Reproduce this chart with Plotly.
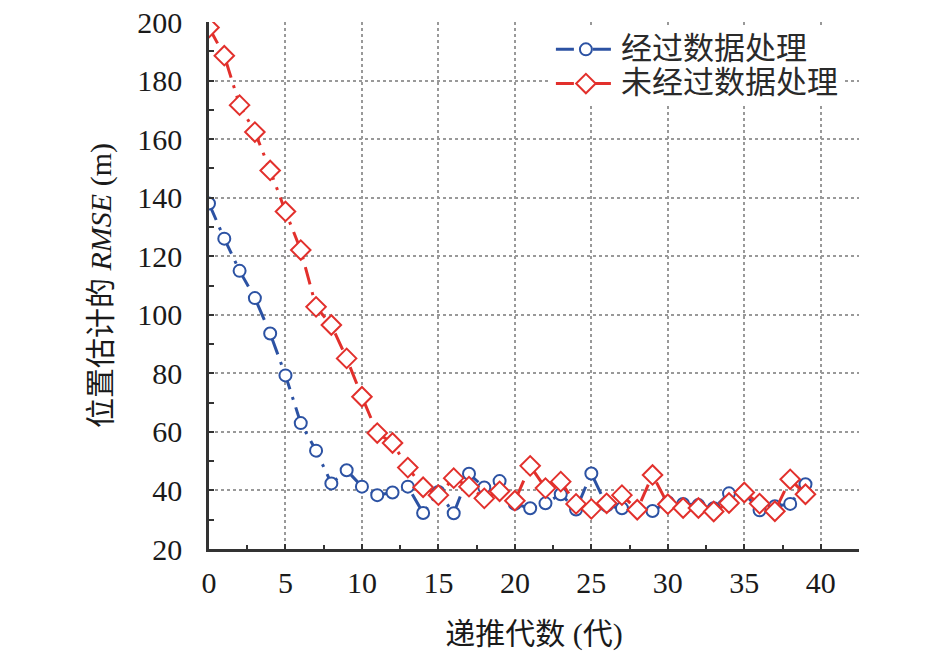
import plotly.graph_objects as go

# generation index (x) and position RMSE (m) for both runs
generations = list(range(40))
rmse_processed = [138, 126, 115, 105.7, 93.6, 79.3, 63, 53.6, 42.4, 46.9,
                  41.3, 38.4, 39.3, 41.3, 32.3, 39.5, 32.2, 45.7, 41, 43.2,
                  35.4, 33.9, 35.6, 38.7, 33.5, 45.8, 34.8, 33.9, 33.8, 33.0,
                  36, 35.4, 35, 33.9, 39, 39, 33.2, 34.6, 35.4, 42.1]
rmse_raw = [198.1, 188.5, 171.6, 162.4, 149.3, 135.3, 122.1, 102.7, 96.5, 85.1,
            72, 59.6, 56.2, 47.8, 41.1, 38.4, 44.2, 41.3, 37.3, 39.7,
            36.5, 48.4, 40.8, 43, 35.4, 33.7, 35.6, 38.4, 33.4, 45.3,
            35.3, 34, 34, 32.8, 35.7, 39.3, 35.5, 32.9, 43.8, 38.7]
series_names = ["经过数据处理", "未经过数据处理"]
x_ticks = [0, 5, 10, 15, 20, 25, 30, 35, 40]
y_ticks = [20, 30, 40, 50, 60, 70, 80, 90, 100, 110,
           120, 130, 140, 150, 160, 170, 180, 190, 200]
y_ticktext = ["20", "", "40", "", "60", "", "80", "", "100", "",
              "120", "", "140", "", "160", "", "180", "", "200"]
y_grid = [40, 60, 80, 100, 120, 140, 160, 180]

BLUE = "#2c52a3"
RED = "#e2302c"
DASH = "18px,8px,3px,8px"
SERIF = "Times New Roman, Liberation Serif, serif"
MIXED = "Times New Roman, Liberation Serif, Noto Sans CJK SC"


def legend_label(name):
    # legend rows are spaced from legend.font.size; draw the text itself larger
    return "<span style='font-size:31px'>" + name + "</span>"


fig = go.Figure()

fig.add_trace(go.Scatter(
    x=generations, y=rmse_processed, name=legend_label(series_names[0]),
    mode="lines+markers",
    line=dict(color=BLUE, width=3, dash=DASH),
    marker=dict(symbol="circle", size=12, color="white",
                line=dict(color=BLUE, width=2)),
))
fig.add_trace(go.Scatter(
    x=generations, y=rmse_raw, name=legend_label(series_names[1]),
    mode="lines+markers",
    line=dict(color=RED, width=3, dash=DASH),
    marker=dict(symbol="diamond", size=15, color="white",
                line=dict(color=RED, width=2)),
))

grid = dict(gridcolor="#999999", gridwidth=2, griddash="dot")
tick_style = dict(ticks="inside", ticklen=5, tickwidth=2, tickcolor="#333333",
                  showline=True, linecolor="#333333", linewidth=2.5,
                  zeroline=False, automargin=False, ticklabeloverflow="allow",
                  tickfont=dict(family=SERIF, size=30, color="#1a1a1a"))

fig.update_layout(
    width=945, height=654,
    margin=dict(l=201, r=94, t=14, b=113),
    paper_bgcolor="white", plot_bgcolor="white",
    font=dict(family=MIXED, size=30, color="#1a1a1a"),
    showlegend=True,
    legend=dict(
        x=0.526, y=0.99, xanchor="left", yanchor="top",
        bgcolor="white", borderwidth=0, itemwidth=60, tracegroupgap=0,
        font=dict(family="Noto Sans CJK SC", size=24, color="#2a2a2a"),
    ),
    xaxis=dict(
        range=[0, 42.5], tickvals=x_ticks, showgrid=True,
        minor=dict(dtick=2.5, ticks="inside", ticklen=4, tickwidth=2,
                   tickcolor="#333333", showgrid=False),
        ticklabelstandoff=5,
        title=dict(text="递推代数 (代)", standoff=26,
                   font=dict(family=MIXED, size=30)),
        **tick_style, **grid,
    ),
    yaxis=dict(
        range=[20, 200], tickvals=y_ticks, ticktext=y_ticktext, showgrid=False,
        # minor ticks only carry the dotted grid (40..180, none on the top edge)
        minor=dict(tickmode="array", tickvals=y_grid, ticks="", showgrid=True, **grid),
        ticklabelstandoff=18,
        title=dict(text="位置估计的 <i>RMSE</i> (m)", standoff=17,
                   font=dict(family=MIXED, size=30)),
        **tick_style,
    ),
)

fig.write_html("out.html")
